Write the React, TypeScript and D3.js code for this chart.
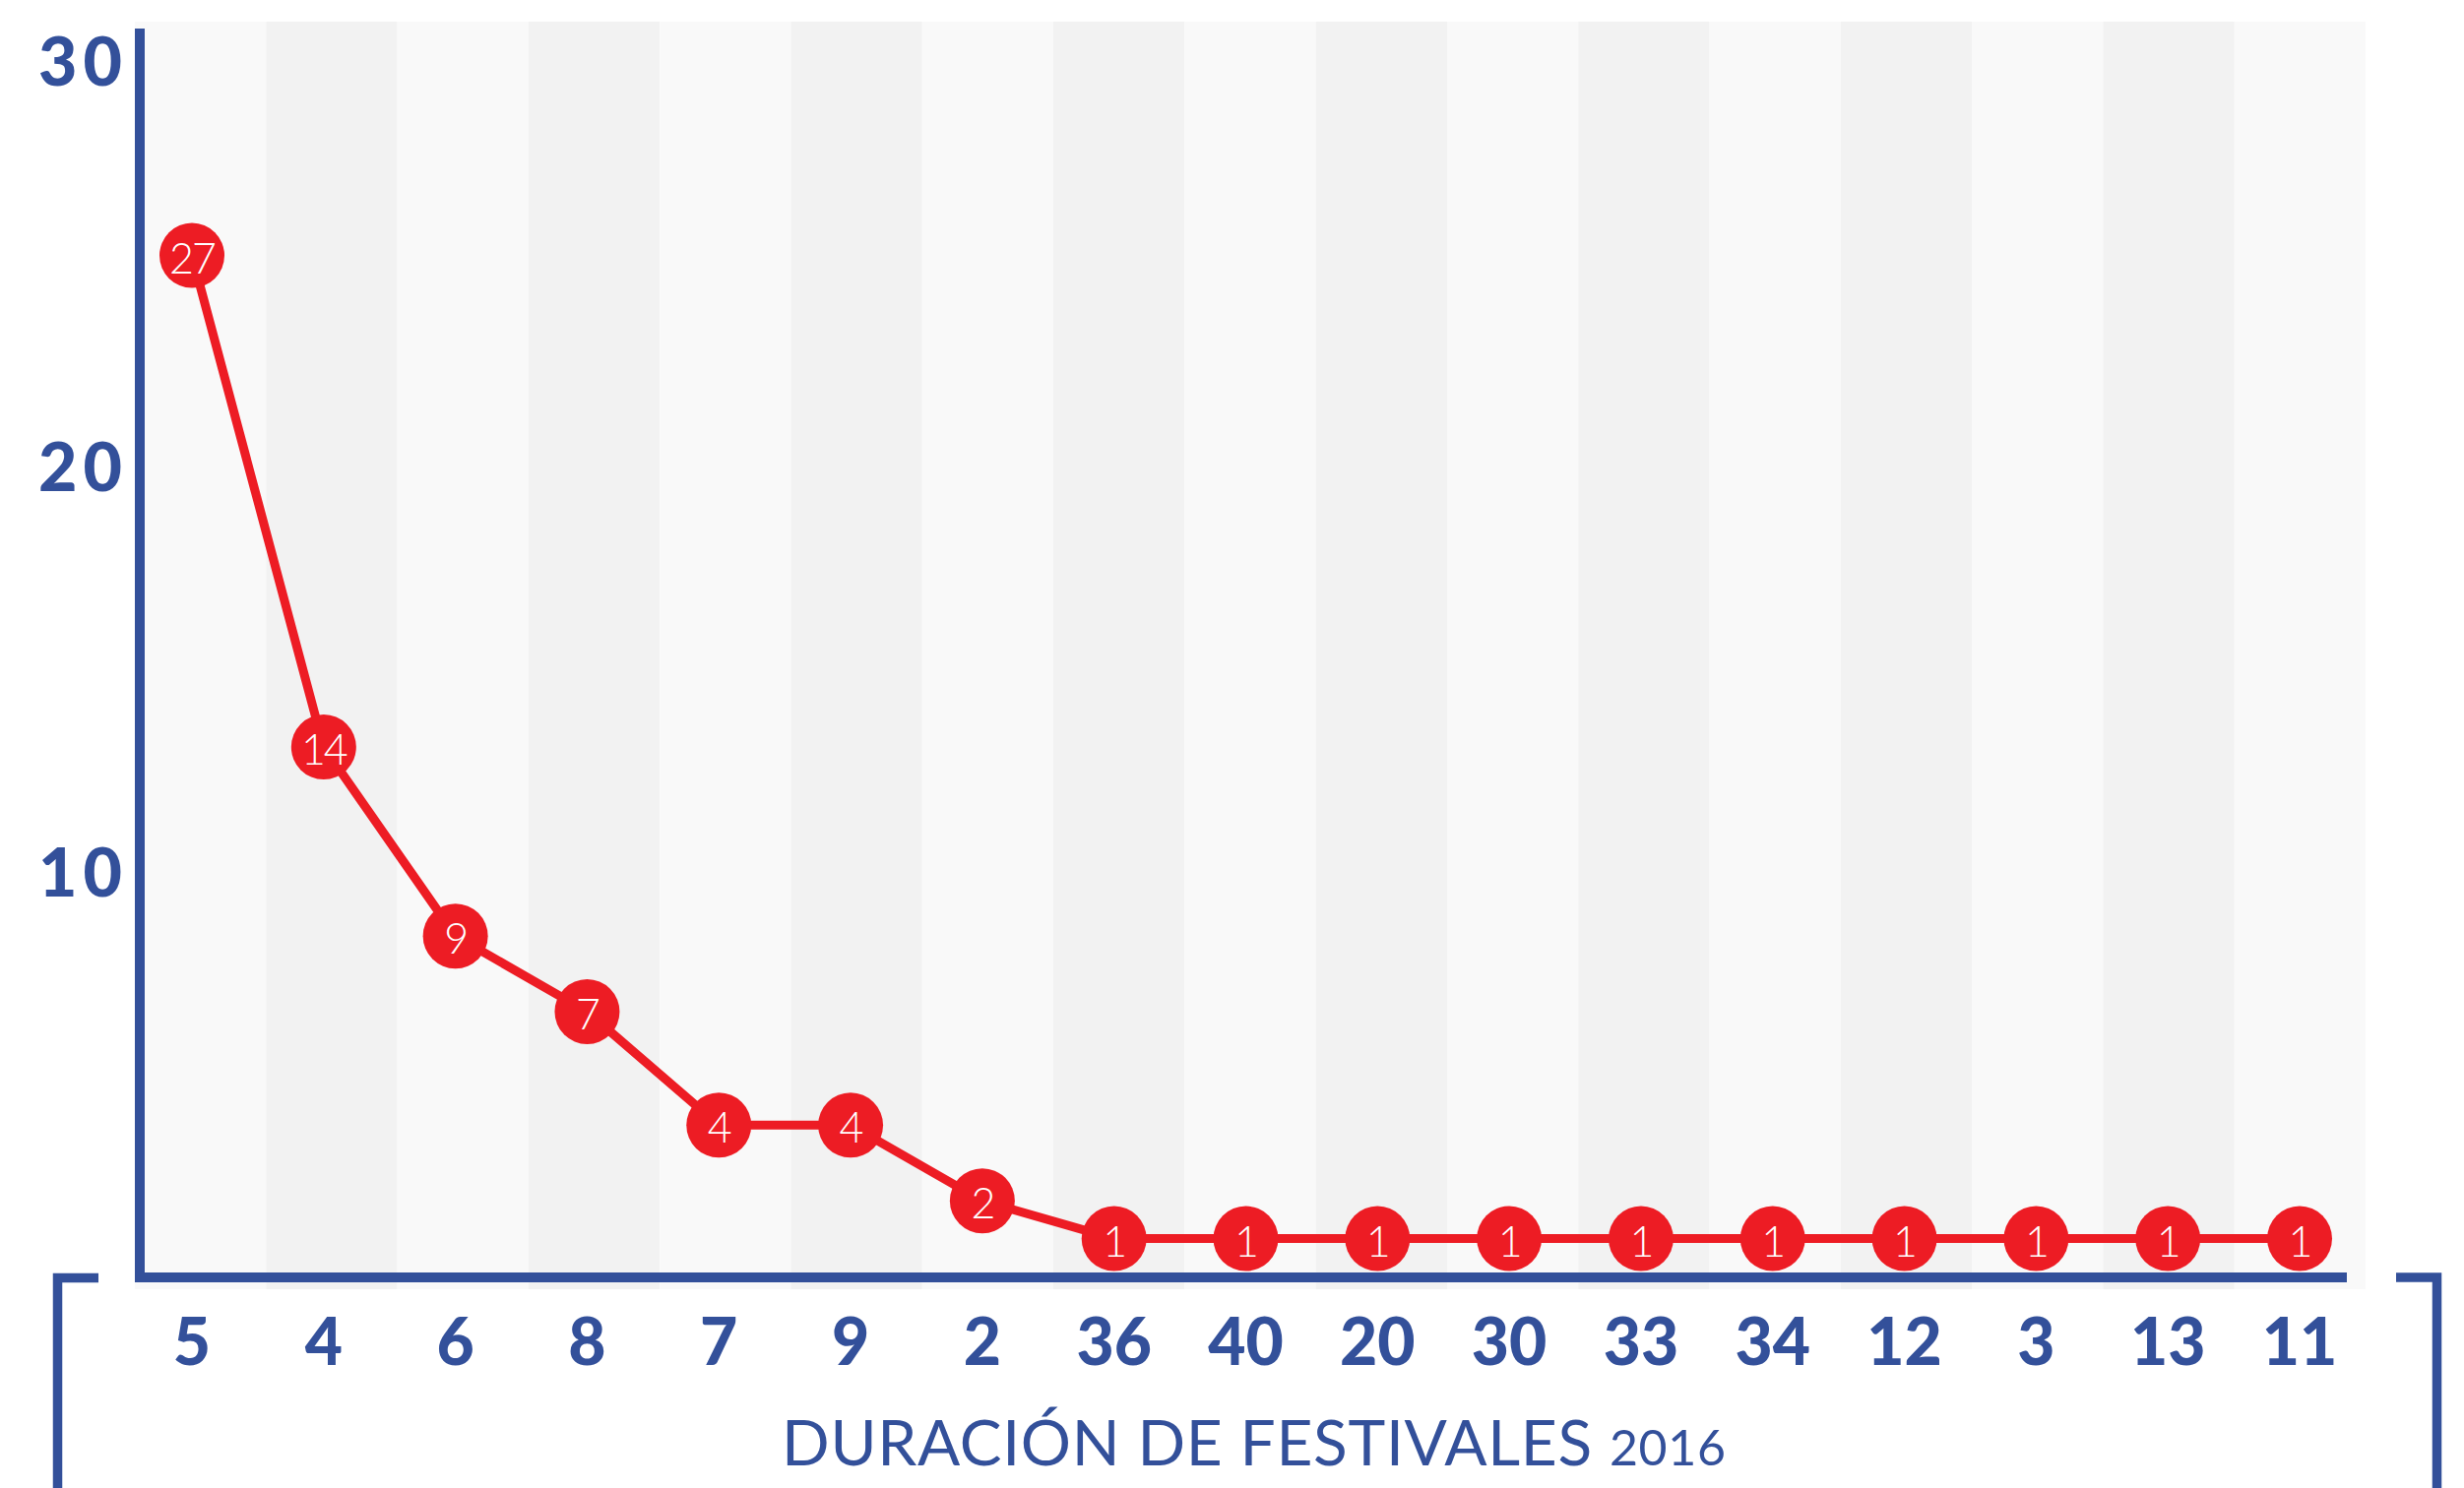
import React from "react";
import * as d3 from "d3";

// ---- data ----
const categories: string[] = ["5", "4", "6", "8", "7", "9", "2", "36", "40", "20", "30", "33", "34", "12", "3", "13", "11"];
const counts: number[] = [27, 14, 9, 7, 4, 4, 2, 1, 1, 1, 1, 1, 1, 1, 1, 1, 1];
const yTickValues: number[] = [10, 20, 30];
const axisTitleWords = "DURACIÓN DE FESTIVALES";
const axisTitleYear = "2016";

// ---- layout / style ----
const W = 2503;
const H = 1512;
const BLUE = "#33509a";
const RED = "#ed1c24";
const STRIPE_A = "#f9f9f9";
const STRIPE_B = "#f2f2f2";

export default function App() {
  const stripeX = d3.scaleBand<string>().domain(categories).range([137, 2403]);
  const x = d3.scalePoint<string>().domain(categories).range([195, 2336]);
  const y = d3.scaleLinear().domain([0, 33]).range([1297, 29]);
  const yLabel = d3.scaleLinear().domain([0, 30]).range([1299, 63]);

  const pts = counts.map((v, i) => ({ c: categories[i], v }));
  const line = d3
    .line<{ c: string; v: number }>()
    .x((d) => x(d.c) as number)
    .y((d) => y(d.v));

  const stripeTop = 22;
  const stripeBottom = 1310;
  const axisLeft = 137;
  const axisW = 10;
  const axisTop = 29;
  const axisBottom = 1303;
  const xAxisRight = 2384;

  return (
    <svg
      width={W}
      height={H}
      viewBox={`0 0 ${W} ${H}`}
      style={{ position: "absolute", left: 0, top: 0, background: "#ffffff" }}
    >
      <rect x={0} y={0} width={W} height={H} fill="#ffffff" />
      {/* stripes */}
      {categories.map((c, i) => (
        <rect
          key={"s" + c}
          x={stripeX(c)}
          y={stripeTop}
          width={stripeX.bandwidth()}
          height={stripeBottom - stripeTop}
          fill={i % 2 === 0 ? STRIPE_A : STRIPE_B}
        />
      ))}

      {/* axes */}
      <rect x={axisLeft} y={axisTop} width={axisW} height={axisBottom - axisTop} fill={BLUE} />
      <rect x={axisLeft} y={axisBottom - axisW} width={xAxisRight - axisLeft} height={axisW} fill={BLUE} />

      {/* brackets */}
      <path d={`M100,1298.5 H58.5 V${H}`} fill="none" stroke={BLUE} strokeWidth={9.5} />
      <path d={`M2434,1298 H2475.5 V${H}`} fill="none" stroke={BLUE} strokeWidth={9.5} />

      {/* y tick labels */}
      {yTickValues.map((t) => (
        <text
          key={"yt" + t}
          x={130}
          y={yLabel(t)}
          dy="0.36em"
          textAnchor="end"
          fontFamily="Lato, 'DejaVu Sans', sans-serif"
          fontWeight={900}
          fontSize={68}
          letterSpacing={6}
          fill={BLUE}
        >
          {t}
        </text>
      ))}

      {/* x tick labels */}
      {categories.map((c) => (
        <text
          key={"xt" + c}
          x={x(c)}
          y={1387}
          textAnchor="middle"
          fontFamily="Lato, 'DejaVu Sans', sans-serif"
          fontWeight={900}
          fontSize={66}
          fill={BLUE}
        >
          {c}
        </text>
      ))}

      {/* axis title */}
      <text
        x={794}
        y={1489}
        textLength={959}
        lengthAdjust="spacing"
        fontFamily="Lato, 'DejaVu Sans', sans-serif"
        fontWeight={400}
        fontSize={64}
        fill={BLUE}
      >
        {axisTitleWords + " "}
        <tspan fontSize={50}>{axisTitleYear}</tspan>
      </text>

      {/* line */}
      <path d={line(pts) || ""} fill="none" stroke={RED} strokeWidth={9} strokeLinejoin="round" />

      {/* points */}
      {pts.map((d, i) => (
        <g key={"p" + i} transform={`translate(${x(d.c)},${y(d.v)})`}>
          <circle r={33} fill={RED} />
          <text
            y={3}
            dy="0.35em"
            textAnchor="middle"
            fontFamily="Lato, 'Open Sans', sans-serif"
            fontWeight={300}
            fontSize={43}
            letterSpacing={-2}
            fill="#ffffff"
          >
            {d.v}
          </text>
        </g>
      ))}
    </svg>
  );
}
